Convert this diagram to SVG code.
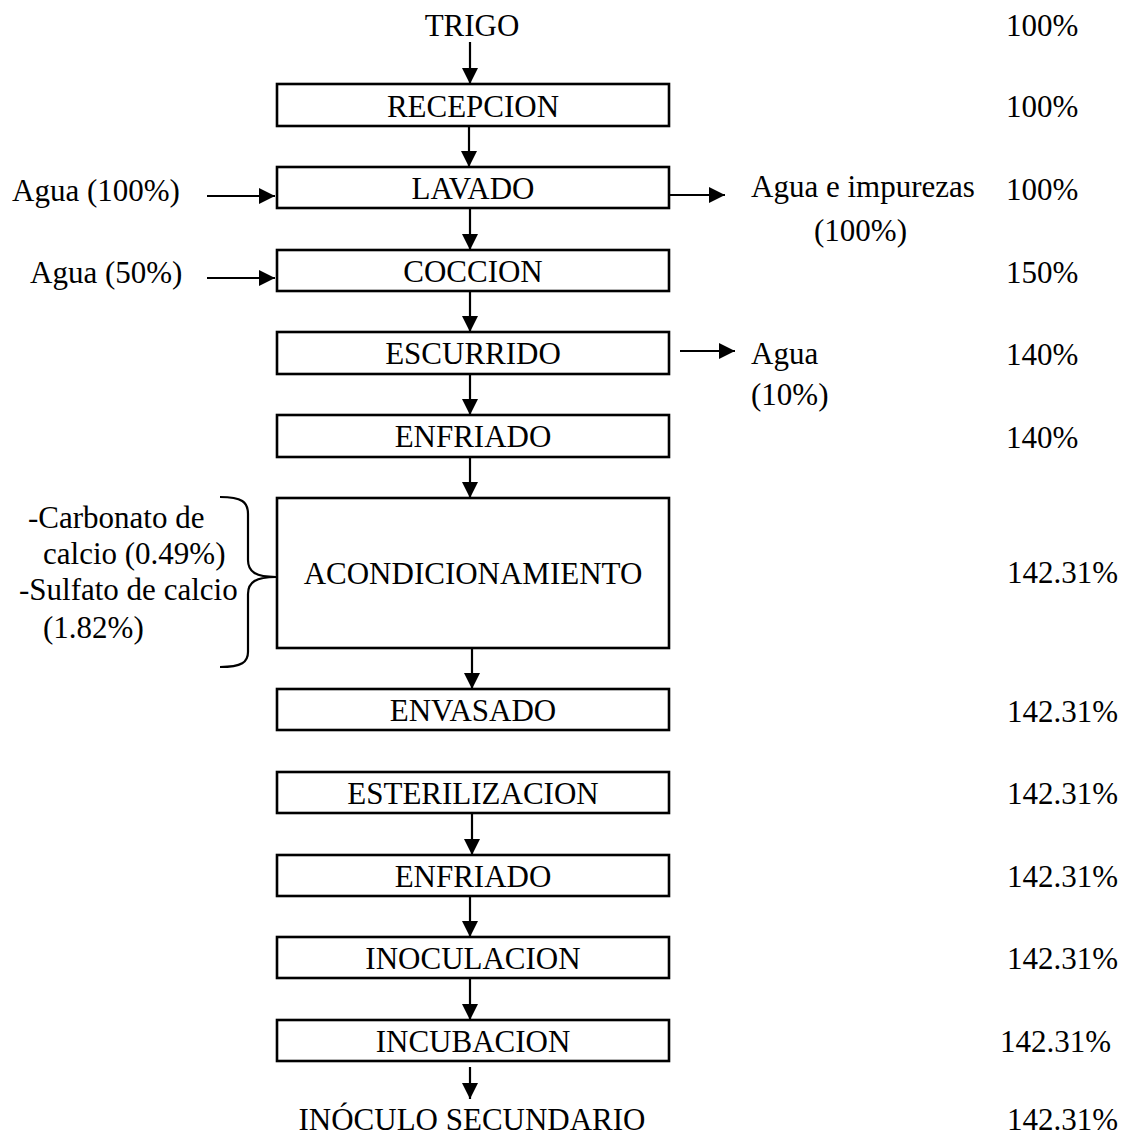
<svg xmlns="http://www.w3.org/2000/svg" width="1122" height="1137" viewBox="0 0 1122 1137">
<defs>
<style>
text{font-family:"Liberation Serif","Times New Roman",serif;font-size:31px;fill:#000}
.c{text-anchor:middle}
.box{fill:#fff;stroke:#000;stroke-width:2.6}
.ln{stroke:#000;stroke-width:2.2;fill:none}
</style>
<marker id="ah" markerWidth="18" markerHeight="18" refX="16" refY="8" orient="auto" markerUnits="userSpaceOnUse">
<path d="M0,0 L16,8 L0,16 Z" fill="#000"/>
</marker>
</defs>
<rect width="1122" height="1137" fill="#fff"/>

<g id="connectors">
<line class="ln" x1="470" y1="42" x2="470" y2="84" marker-end="url(#ah)"/>
<line class="ln" x1="469" y1="126" x2="469" y2="167" marker-end="url(#ah)"/>
<line class="ln" x1="470" y1="208" x2="470" y2="250" marker-end="url(#ah)"/>
<line class="ln" x1="470" y1="291" x2="470" y2="332" marker-end="url(#ah)"/>
<line class="ln" x1="470" y1="374" x2="470" y2="415" marker-end="url(#ah)"/>
<line class="ln" x1="470" y1="457" x2="470" y2="498" marker-end="url(#ah)"/>
<line class="ln" x1="472" y1="648" x2="472" y2="689" marker-end="url(#ah)"/>
<line class="ln" x1="472" y1="813" x2="472" y2="855" marker-end="url(#ah)"/>
<line class="ln" x1="470" y1="896" x2="470" y2="937" marker-end="url(#ah)"/>
<line class="ln" x1="470" y1="978" x2="470" y2="1020" marker-end="url(#ah)"/>
<line class="ln" x1="470" y1="1067" x2="470" y2="1099" marker-end="url(#ah)"/>
<line class="ln" x1="207" y1="196" x2="275" y2="196" marker-end="url(#ah)"/>
<line class="ln" x1="207" y1="278" x2="275" y2="278" marker-end="url(#ah)"/>
<line class="ln" x1="669" y1="195" x2="725" y2="195" marker-end="url(#ah)"/>
<line class="ln" x1="680" y1="351" x2="735" y2="351" marker-end="url(#ah)"/>
<path class="ln" d="M220,497 C242,497 248,502 248,514 L248,560 C248,572 256,577 276,577 C256,577 248,582 248,594 L248,652 C248,662 242,667 220,667"/>
</g>

<g id="trigo"><text class="c" x="472" y="36">TRIGO</text></g>

<g id="recepcion"><rect class="box" x="277" y="84" width="392" height="42"/><text class="c" x="473" y="117">RECEPCION</text></g>
<g id="lavado"><rect class="box" x="277" y="167" width="392" height="41"/><text class="c" x="473" y="199">LAVADO</text></g>
<g id="coccion"><rect class="box" x="277" y="250" width="392" height="41"/><text class="c" x="473" y="282">COCCION</text></g>
<g id="escurrido"><rect class="box" x="277" y="332" width="392" height="42"/><text class="c" x="473" y="364">ESCURRIDO</text></g>
<g id="enfriado1"><rect class="box" x="277" y="415" width="392" height="42"/><text class="c" x="473" y="447">ENFRIADO</text></g>
<g id="acondicionamiento"><rect class="box" x="277" y="498" width="392" height="150"/><text class="c" x="473" y="584">ACONDICIONAMIENTO</text></g>
<g id="envasado"><rect class="box" x="277" y="689" width="392" height="41"/><text class="c" x="473" y="721">ENVASADO</text></g>
<g id="esterilizacion"><rect class="box" x="277" y="772" width="392" height="41"/><text class="c" x="473" y="804">ESTERILIZACION</text></g>
<g id="enfriado2"><rect class="box" x="277" y="855" width="392" height="41"/><text class="c" x="473" y="887">ENFRIADO</text></g>
<g id="inoculacion"><rect class="box" x="277" y="937" width="392" height="41"/><text class="c" x="473" y="969">INOCULACION</text></g>
<g id="incubacion"><rect class="box" x="277" y="1020" width="392" height="41"/><text class="c" x="473" y="1052">INCUBACION</text></g>
<g id="inoculo"><text class="c" x="472" y="1130">INÓCULO SECUNDARIO</text></g>

<g id="agua-in-100"><text x="12" y="201">Agua (100%)</text></g>
<g id="agua-in-50"><text x="30" y="283">Agua (50%)</text></g>
<g id="agua-impurezas"><text x="751" y="197">Agua e impurezas</text><text x="814" y="241">(100%)</text></g>
<g id="agua-out-10"><text x="751" y="364">Agua</text><text x="751" y="405">(10%)</text></g>
<g id="aditivos">
<text x="28" y="528">-Carbonato de</text>
<text x="43" y="564">calcio (0.49%)</text>
<text x="19" y="600">-Sulfato de calcio</text>
<text x="43" y="638">(1.82%)</text>
</g>

<g id="percentages">
<text x="1006" y="36">100%</text>
<text x="1006" y="117">100%</text>
<text x="1006" y="200">100%</text>
<text x="1006" y="283">150%</text>
<text x="1006" y="365">140%</text>
<text x="1006" y="448">140%</text>
<text x="1007" y="583">142.31%</text>
<text x="1007" y="722">142.31%</text>
<text x="1007" y="804">142.31%</text>
<text x="1007" y="887">142.31%</text>
<text x="1007" y="969">142.31%</text>
<text x="1000" y="1052">142.31%</text>
<text x="1007" y="1130">142.31%</text>
</g>
</svg>
